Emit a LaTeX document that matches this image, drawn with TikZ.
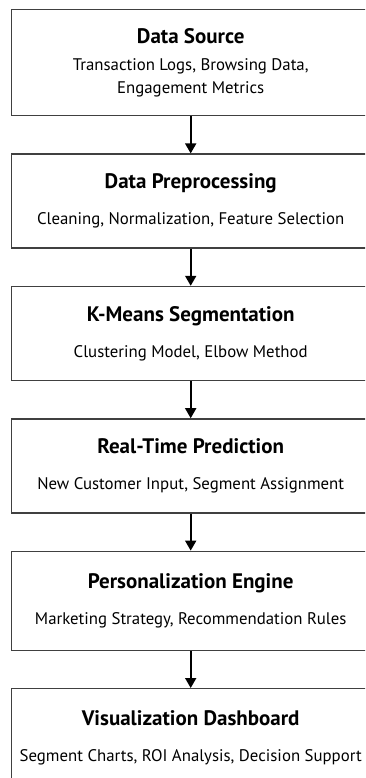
\documentclass[tikz,border=0pt]{standalone}
\usepackage{fontspec}
\setmainfont{PT Sans}
\usetikzlibrary{arrows.meta,positioning}

\newcommand\StageTitle[1]{{\fontsize{21}{22}\selectfont\bfseries #1}}   % box titles

\begin{document}
\begin{tikzpicture}[x=1pt, y=1pt, >={Triangle[length=10pt, width=11pt]},
    stagebox/.style={draw=black!75, line width=1.4pt, minimum width=358pt,
      minimum height=94pt, align=center, inner sep=0pt,
      font=\fontsize{16.8}{23}\selectfont},
    flow/.style={->, line width=1.8pt},
    node distance=37pt]
    \useasboundingbox (0,0) rectangle (365,-778);
    \clip (0,0) rectangle (365,-778);

    \node[stagebox, minimum height=106pt, anchor=north west] (src) at (11,-9)
      {\StageTitle{Data Source}\\[4pt]Transaction Logs, Browsing Data,\\Engagement Metrics};
    \node[stagebox, below=of src] (prep)
      {\StageTitle{Data Preprocessing}\\[13pt]Cleaning, Normalization, Feature Selection};
    \node[stagebox, below=of prep] (kmeans)
      {\StageTitle{K-Means Segmentation}\\[13pt]Clustering Model, Elbow Method};
    \node[stagebox, below=of kmeans] (pred)
      {\StageTitle{Real-Time Prediction}\\[13pt]New Customer Input, Segment Assignment};
    \node[stagebox, minimum height=99pt, below=of pred] (pers)
      {\StageTitle{Personalization Engine}\\[13pt]Marketing Strategy, Recommendation Rules};
    \node[stagebox, minimum height=99pt, below=of pers] (dash)
      {\StageTitle{Visualization Dashboard}\\[13pt]Segment Charts, ROI Analysis, Decision Support};

    \foreach \A/\B in {src/prep, prep/kmeans, kmeans/pred, pred/pers, pers/dash}
      \draw[flow] (\A) -- (\B);
\end{tikzpicture}
\end{document}
